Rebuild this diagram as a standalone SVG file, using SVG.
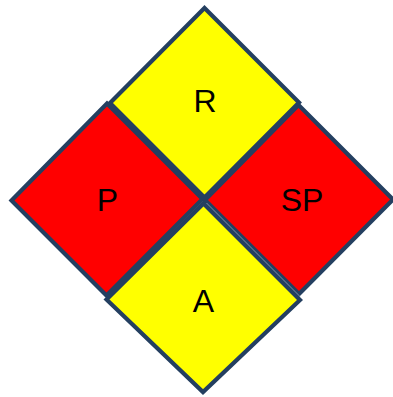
<svg xmlns="http://www.w3.org/2000/svg" width="393" height="397" viewBox="0 0 393 397">
<style>
.d{stroke:#243F60;stroke-width:4.2;stroke-linejoin:miter}
.y{fill:#FFFF00}
.r{fill:#FF0000}
.t{font-family:"Liberation Sans",Arial,sans-serif;font-size:32px;fill:#000;text-anchor:middle}
</style>
<rect width="393" height="397" fill="#fff"/>
<g id="node-P">
<polygon class="d r" points="107,103.5 202.5,199 106.5,295.5 11.5,200.5"/>
<text class="t" x="107.5" y="211">P</text>
</g>
<g id="node-SP">
<polygon class="d r" points="298.5,105 393,199.5 299,294 205,200"/>
<text class="t" x="302" y="211">SP</text>
</g>
<g id="node-A">
<polygon class="d y" points="203.5,203.5 300,300 203,392 106.5,299.5"/>
<text class="t" x="203.5" y="312">A</text>
</g>
<g id="node-R">
<polygon class="d y" points="204.5,8 299,102.5 204.5,197.5 110,103"/>
<text class="t" x="205" y="112">R</text>
</g>
<g id="connectors">
<line x1="206.5" y1="203" x2="300" y2="296.5" stroke="#9FB0C4" stroke-width="0.7"/>
</g>
</svg>
